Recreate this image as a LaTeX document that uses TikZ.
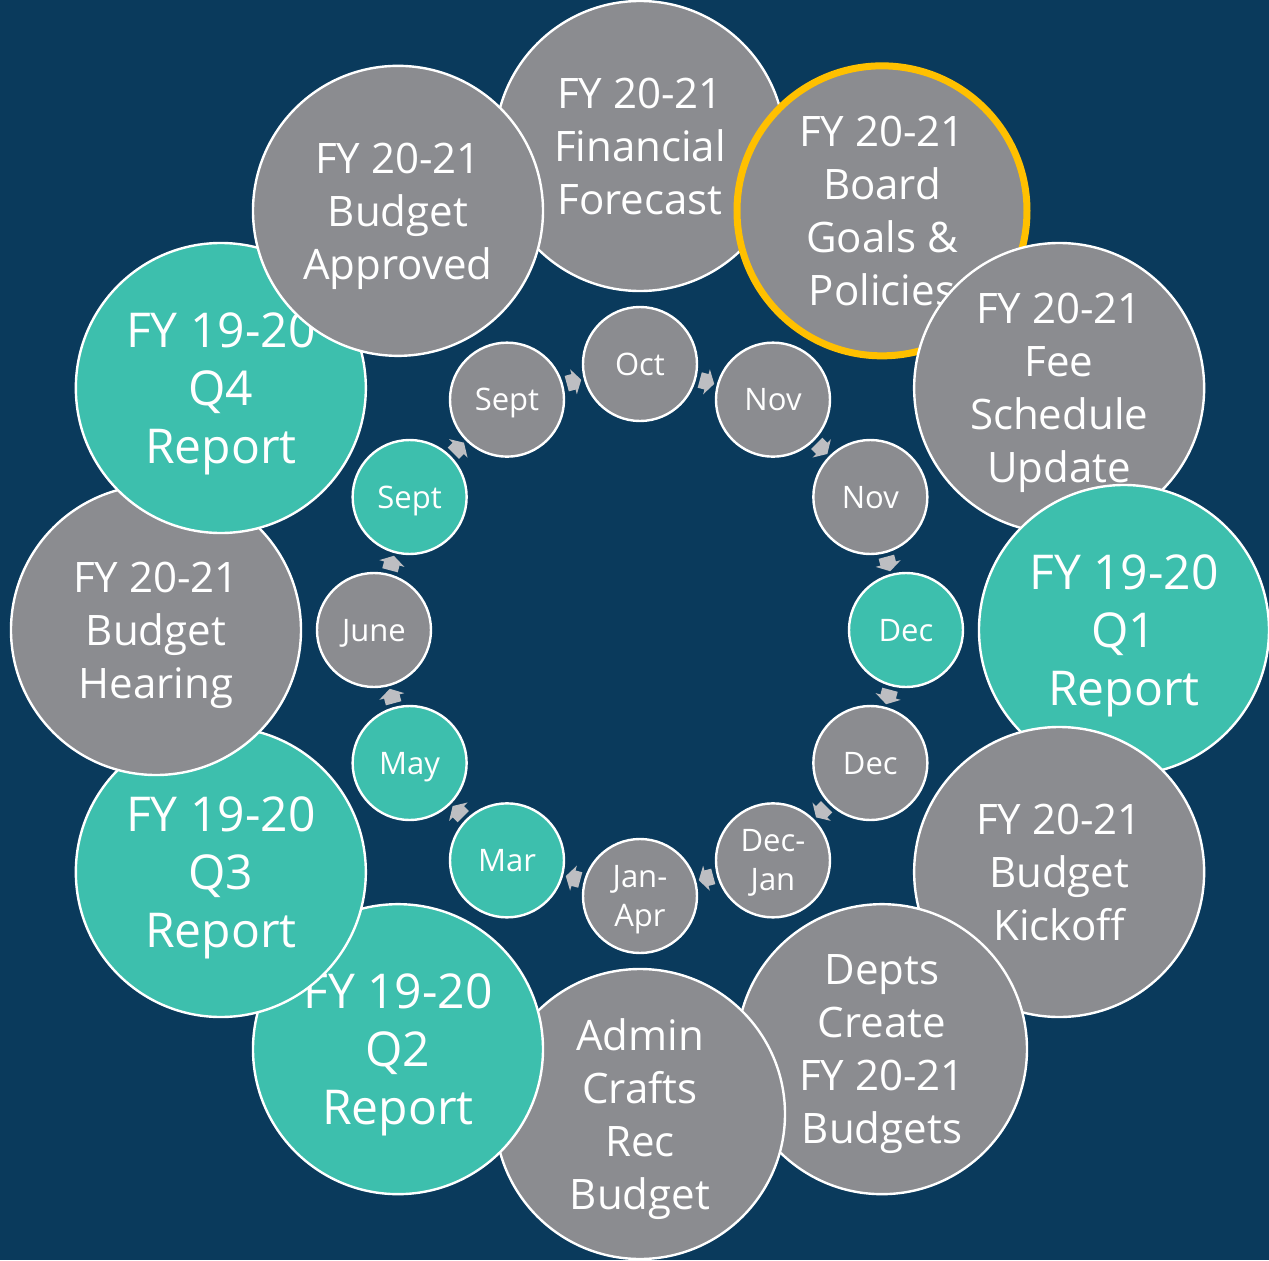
\documentclass[tikz,border=0pt]{standalone}
\usepackage{fontspec}
\setmainfont{Open Sans}
\usetikzlibrary{calc}

\definecolor{navy}{HTML}{0A3A5C}
\definecolor{slate}{HTML}{8B8C90}
\definecolor{jade}{HTML}{3DBFAD}
\definecolor{pebble}{HTML}{BDBEC2}
\definecolor{amber}{HTML}{FFC000}

\newcommand{\event}[4][greydisc]{%
  % #1 style (default greydisc), #2 name, #3 angle, #4 label
  \node[#1] (#2) at (#3:484) {#4};
}
\newcommand{\stage}[4][greystage]{%
  % #1 style (default greystage), #2 name, #3 angle, #4 label
  \node[#1] (#2) at (#3:266) {#4};
}
\newcommand{\cyc}[3]{%
  % #1 from node, #2 to node, #3 rotation
  \fill[pebble, shift={($(#1)!0.5!(#2)$)}, rotate=#3]
    (-7,-8) -- (0,-8) -- (0,-13) -- (8,0) -- (0,13) -- (0,8) -- (-7,8) -- cycle;
}

\begin{document}
\begin{tikzpicture}[x=0.5pt,y=0.5pt]

% disc styles
\tikzset{
  disc/.style={circle, draw=white, line width=1.2pt, inner sep=0pt, text=white, align=center},
  greydisc/.style={disc, fill=slate, minimum size=145pt, text depth=-2.5pt,
    font=\fontsize{21}{26.5}\selectfont},
  tealdisc/.style={disc, fill=jade, minimum size=145pt, text depth=-2.5pt,
    font=\fontsize{24}{29}\selectfont},
  ringdisc/.style={greydisc, draw=amber, line width=3.5pt},
  greystage/.style={disc, fill=slate, minimum size=57pt, text depth=-1.5pt,
    font=\fontsize{15.5}{19.5}\selectfont},
  tealstage/.style={greystage, fill=jade},
}

% background
\fill[navy] (-640,-630) rectangle (629,630);
\useasboundingbox (-640,-630) rectangle (629,630);

% ---------------- outer ring: milestones ----------------
\event{forecast}{90}{FY 20-21\\Financial\\Forecast}
\event[ringdisc]{goals}{60}{FY 20-21\\Board\\Goals \&\\Policies}
\event{fees}{30}{FY 20-21\\Fee\\Schedule\\Update}
\event[tealdisc]{qone}{0}{FY 19-20\\Q1\\Report}
\event{kickoff}{-30}{FY 20-21\\Budget\\Kickoff}
\event{depts}{-60}{Depts\\Create\\FY 20-21\\Budgets}
\event{admin}{-90}{Admin\\Crafts\\Rec\\Budget}
\event[tealdisc]{qtwo}{-120}{FY 19-20\\Q2\\Report}
\event[tealdisc]{qthree}{-150}{FY 19-20\\Q3\\Report}
\event{hearing}{180}{FY 20-21\\Budget\\Hearing}
\event[tealdisc]{qfour}{150}{FY 19-20\\Q4\\Report}
\event{approved}{120}{FY 20-21\\Budget\\Approved}

% ---------------- inner ring: months ----------------
\stage{oct}{90}{Oct}
\stage{novA}{60}{Nov}
\stage{novB}{30}{Nov}
\stage[tealstage]{decA}{0}{Dec}
\stage{decB}{-30}{Dec}
\stage{decjan}{-60}{Dec-\\Jan}
\stage{janapr}{-90}{Jan-\\Apr}
\stage[tealstage]{mar}{-120}{Mar}
\stage[tealstage]{may}{-150}{May}
\stage{june}{180}{June}
\stage[tealstage]{septA}{150}{Sept}
\stage{septB}{120}{Sept}

% clockwise arrows between months
\cyc{oct}{novA}{-15}
\cyc{novA}{novB}{-45}
\cyc{novB}{decA}{-75}
\cyc{decA}{decB}{-105}
\cyc{decB}{decjan}{-135}
\cyc{decjan}{janapr}{-165}
\cyc{janapr}{mar}{-195}
\cyc{mar}{may}{-225}
\cyc{may}{june}{-255}
\cyc{june}{septA}{-285}
\cyc{septA}{septB}{-315}
\cyc{septB}{oct}{-345}

\end{tikzpicture}
\end{document}
